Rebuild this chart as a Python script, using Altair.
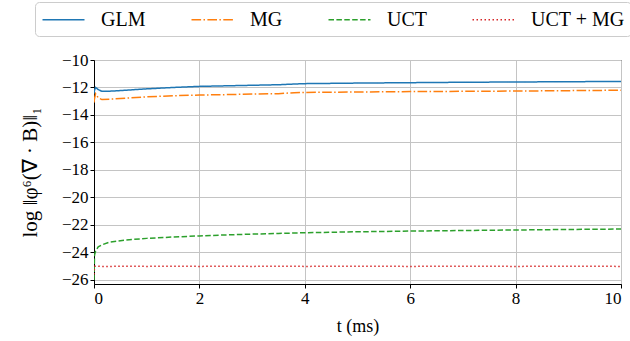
import altair as alt
import pandas as pd

t_ms = [0, 0.01, 0.03, 0.08, 0.15, 0.3, 0.6, 1.0, 1.5, 2.0, 2.5, 3.0, 3.5, 3.8, 4.0, 5.0, 6.0, 7.0, 8.0, 9.0, 10.0]
glm = [-12.45, -12.2, -12.0, -12.15, -12.28, -12.27, -12.2, -12.1, -12.0, -11.92, -11.88, -11.84, -11.8, -11.75, -11.72, -11.68, -11.65, -11.62, -11.6, -11.58, -11.56]
mg = [-13.1, -12.8, -12.45, -12.75, -12.88, -12.85, -12.78, -12.68, -12.6, -12.55, -12.52, -12.48, -12.45, -12.38, -12.36, -12.33, -12.3, -12.28, -12.26, -12.23, -12.2]
uct = [-26.0, -24.2, -23.9, -23.6, -23.45, -23.25, -23.1, -22.98, -22.88, -22.8, -22.73, -22.67, -22.62, -22.59, -22.57, -22.5, -22.45, -22.41, -22.37, -22.33, -22.3]
uct_mg = [-25.6, -25.0, -25.0, -25.0, -25.02, -25.02, -25.0, -25.02, -25.0, -25.02, -25.0, -25.02, -25.0, -25.0, -25.02, -25.0, -25.02, -25.0, -25.02, -25.0, -25.02]

series_names = ["GLM", "MG", "UCT", "UCT + MG"]
series_values = [glm, mg, uct, uct_mg]
colors = ["#1f77b4", "#ff7f0e", "#2ca02c", "#d62728"]
dashes = [[1, 0], [9.6, 2.4, 1.5, 2.4], [5.5, 2.4], [1.5, 2.5]]
x_ticks = [0, 2, 4, 6, 8, 10]
y_ticks = [-10, -12, -14, -16, -18, -20, -22, -24, -26]

rows = []
for name, vals in zip(series_names, series_values):
    for t, v in zip(t_ms, vals):
        rows.append({"t": t, "v": v, "series": name})
df = pd.DataFrame(rows)

FONT = "Liberation Serif"
TICK_FONT = "Liberation Serif, Times New Roman, serif"

chart = alt.Chart(df).mark_line(strokeWidth=1.5, clip=True).encode(
    x=alt.X("t:Q", scale=alt.Scale(domain=[0, 10], nice=False, zero=False),
            axis=alt.Axis(values=x_ticks, title="t (ms)",
                          labelFont=TICK_FONT, labelFontSize=17, titleFont=FONT, titleFontSize=18,
                          titleX=263.5, titleY=42, titleBaseline="middle")),
    y=alt.Y("v:Q", scale=alt.Scale(domain=[-26.3, -10], nice=False, zero=False),
            axis=alt.Axis(values=y_ticks,
                          title="log ‖φ⁶(∇ · B)‖₁",
                          labelFont=TICK_FONT, labelFontSize=17,
                          titleFont=FONT, titleFontSize=21,
                          titleX=-64, titleY=112, titleAngle=-90,
                          titleAlign="center", titleBaseline="middle")),
    color=alt.Color("series:N", scale=alt.Scale(domain=series_names, range=colors),
                    legend=alt.Legend(title=None)),
    strokeDash=alt.StrokeDash("series:N", scale=alt.Scale(domain=series_names, range=dashes),
                              legend=alt.Legend(title=None)),
    order=alt.Order("t:Q"),
).properties(
    width=527, height=224,
    autosize=alt.AutoSizeParams(type="none"),
    padding={"left": 94, "top": 60, "right": 9, "bottom": 57},
).configure(
    font=FONT,
    style={"guide-label": {"font": FONT}, "guide-title": {"font": FONT}},
).configure_view(
    stroke="black", strokeWidth=1
).configure_axis(
    titleFontWeight="normal", labelColor="black", titleColor="black",
    domainColor="black", tickColor="black", tickSize=4, labelPadding=2,
    gridColor="#c4c4c4", gridWidth=1, domainWidth=1, tickWidth=1,
).configure_legend(
    orient="none", legendX=-59, legendY=-58, direction="horizontal", columns=4,
    symbolType="M-2,0H2", symbolSize=441, symbolStrokeWidth=1.5, symbolOffset=11,
    labelFont=FONT, labelFontSize=20, labelColor="black", labelOffset=26,
    columnPadding=42, padding=6, fillColor="white", strokeColor="#cccccc",
    cornerRadius=4,
)

chart.save("out.html", embed_options={"renderer": "svg", "actions": False})
